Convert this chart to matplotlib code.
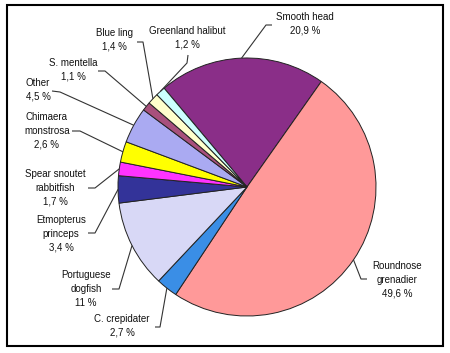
import numpy as np
import matplotlib
matplotlib.use("Agg")
import matplotlib.pyplot as plt
from matplotlib.patches import Rectangle

# species share of catch, clockwise from the top
species = ["Smooth head", "Roundnose\ngrenadier", "C. crepidater", "Portuguese\ndogfish",
           "Etmopterus\nprinceps", "Spear snoutet\nrabbitfish", "Chimaera\nmonstrosa",
           "Other", "S. mentella", "Blue ling", "Greenland halibut"]
shares = [20.9, 49.6, 2.7, 11, 3.4, 1.7, 2.6, 4.5, 1.1, 1.4, 1.2]
pct_labels = ["20,9 %", "49,6 %", "2,7 %", "11 %", "3,4 %", "1,7 %", "2,6 %",
              "4,5 %", "1,1 %", "1,4 %", "1,2 %"]
colors = ["#8a2e88", "#ff9999", "#3a8ee6", "#d8d8f6", "#333399", "#ff33ff",
          "#ffff00", "#aaaaf2", "#a8507c", "#ffffcc", "#ccffff"]

# layout, in pixels from the top-left corner
W, H = 450, 353
cx, cy, R = 247, 187, 129
text_pos = [(305, 24), (397, 280), (122, 326), (86, 289), (61, 234), (55, 188),
            (47, 131), (38, 90), (73, 70), (114, 40), (187, 38)]
elbows = [[(272, 25), (266, 25)], [(367, 279), (361, 279)], [(155, 327), (160, 327)],
          [(112, 289), (119, 289)], [(88, 233), (95, 233)], [(88, 188), (95, 188)],
          [(72, 131), (80, 131)], [(52, 91), (60, 92)], [(98, 71), (105, 71)],
          [(137, 42), (143, 42)], [(188, 55), (187, 63)]]


def P(x, y):
    return x, H - y


fig = plt.figure(figsize=(W / 100, H / 100), dpi=100)
ax = fig.add_axes([0, 0, 1, 1])

wedges, _ = ax.pie(shares, colors=colors, startangle=130, counterclock=False,
                   center=P(cx, cy), radius=R,
                   wedgeprops=dict(edgecolor="#222222", linewidth=0.7))
ax.set_xlim(0, W)
ax.set_ylim(0, H)
ax.set_aspect("auto")
ax.axis("off")

for w, name, pct, (tx, ty), elb in zip(wedges, species, pct_labels, text_pos, elbows):
    mid = np.deg2rad((w.theta1 + w.theta2) / 2)
    ex = cx + R * np.cos(mid)
    ey = cy - R * np.sin(mid)
    xs = [p[0] for p in elb] + [ex]
    ys = [H - p[1] for p in elb] + [H - ey]
    ax.plot(xs, ys, color="#333333", lw=0.8, solid_capstyle="butt")
    ax.text(*P(tx, ty), name + "\n" + pct, ha="center", va="center",
            fontsize=7, family="Liberation Sans", linespacing=1.45, color="#111111")

ax.add_patch(Rectangle(P(7, 346), 436, 341, fill=False, edgecolor="black", lw=1.5))

fig.savefig("out.png", dpi=100)
